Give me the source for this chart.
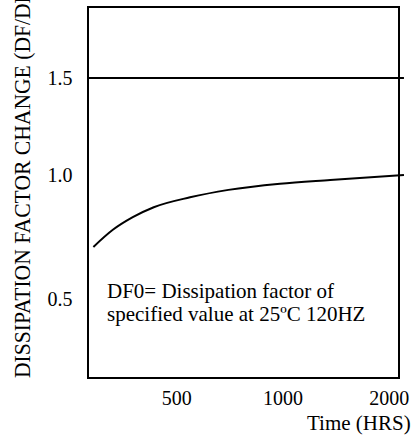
<!DOCTYPE html>
<html>
<head>
<meta charset="utf-8">
<script src="https://cdn.jsdelivr.net/npm/d3@7"></script>
<style>
  body { margin: 0; background: #fff; }
  text { font-family: "Liberation Serif", "Times New Roman", serif; fill: #000; }
</style>
</head>
<body>
<script>
const width = 415;
const height = 436;

// data
const hours = [290, 330, 375, 430, 545, 700, 980, 1360, 2200];
const dfRatio = [0.71, 0.78, 0.83, 0.87, 0.91, 0.94, 0.965, 0.98, 1.0];
const limitValue = 1.5;
const xTicks = [500, 1000, 2000];
const yTicks = [0.5, 1.0, 1.5];
const noteLines = ["DF0= Dissipation factor of", "specified value at 25ºC 120HZ"];

const box = { left: 88, right: 399, top: 7, bottom: 378 };

const svg = d3
  .select("body")
  .append("svg")
  .attr("width", width)
  .attr("height", height);

const x = d3
  .scaleLog()
  .domain([280, 2130])
  .range([box.left, box.right]);

// tick spacing on the original is uneven, so piecewise
const y = d3
  .scaleLinear()
  .domain(yTicks)
  .range([299, 175, 78]);

// frame
svg
  .append("rect")
  .attr("x", box.left)
  .attr("y", box.top)
  .attr("width", box.right - box.left)
  .attr("height", box.bottom - box.top)
  .attr("fill", "none")
  .attr("stroke", "#000")
  .attr("stroke-width", 2);

// limit line
svg
  .append("line")
  .attr("x1", box.left)
  .attr("x2", x(2200))
  .attr("y1", y(limitValue))
  .attr("y2", y(limitValue))
  .attr("stroke", "#000")
  .attr("stroke-width", 2);

// curve
const linea = d3
  .line()
  .x((d, i) => x(hours[i]))
  .y((d) => y(d))
  .curve(d3.curveMonotoneX);

svg
  .append("path")
  .datum(dfRatio)
  .attr("d", linea)
  .attr("fill", "none")
  .attr("stroke", "#000")
  .attr("stroke-width", 2);

// y tick labels
svg
  .append("g")
  .selectAll("text")
  .data(yTicks)
  .join("text")
  .attr("x", 60)
  .attr("y", (d) => y(d))
  .attr("dy", "0.35em")
  .attr("text-anchor", "middle")
  .attr("font-size", 20)
  .text((d) => d.toFixed(1));

// x tick labels
svg
  .append("g")
  .selectAll("text")
  .data(xTicks)
  .join("text")
  .attr("x", (d) => x(d))
  .attr("y", 405)
  .attr("text-anchor", "middle")
  .attr("font-size", 20)
  .text((d) => d);

svg
  .append("text")
  .attr("x", 307)
  .attr("y", 430)
  .attr("font-size", 21)
  .text("Time (HRS)");

// runs off the top edge, as in the original
svg
  .append("text")
  .attr("transform", `translate(30, ${box.bottom}) rotate(-90) scale(0.9, 1)`)
  .attr("font-size", 24)
  .text("DISSIPATION FACTOR CHANGE (DF/DF0)");

svg
  .append("g")
  .selectAll("text")
  .data(noteLines)
  .join("text")
  .attr("x", 107)
  .attr("y", (d, i) => 298 + i * 23)
  .attr("font-size", 21)
  .text((d) => d);
</script>
</body>
</html>
